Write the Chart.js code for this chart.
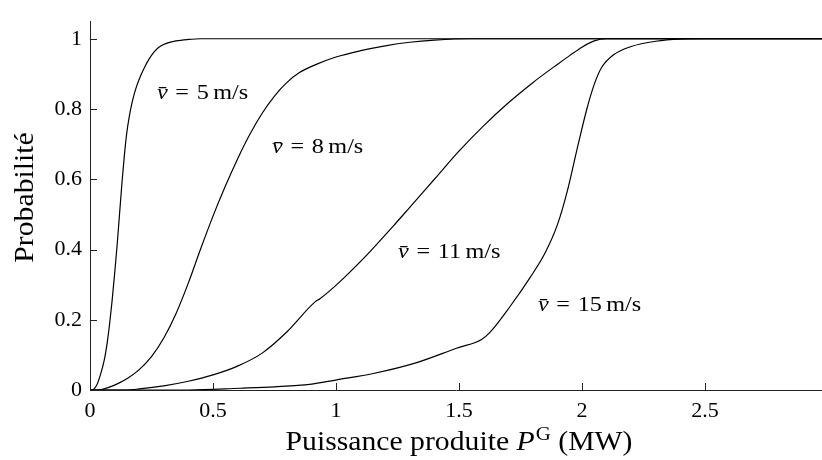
<!DOCTYPE html>
<html>
<head>
<meta charset="utf-8">
<script src="https://cdn.jsdelivr.net/npm/chart.js@4"></script>
<style>
  html, body { margin: 0; padding: 0; background: #fff; }
  #cadre { width: 822px; height: 460px; }
</style>
</head>
<body>
<div id="cadre"><canvas id="grafico"></canvas></div>
<script>
// Vitesses moyennes du vent (m/s)
var vitesses = ['5', '8', '11', '15'];

// Puissance (MW) et probabilité, une paire par courbe
var puissance5 = [0, 0.01, 0.02, 0.03, 0.04, 0.05, 0.06, 0.07, 0.08, 0.09, 0.1, 0.11, 0.12, 0.13, 0.14, 0.15, 0.16, 0.17, 0.18, 0.19, 0.2, 0.22, 0.24, 0.26, 0.28, 0.31, 0.35, 0.4, 0.45, 2.976];
var proba5     = [0, 0, 0.006, 0.018, 0.038, 0.062, 0.092, 0.135, 0.19, 0.255, 0.33, 0.41, 0.5, 0.59, 0.67, 0.735, 0.78, 0.815, 0.843, 0.866, 0.885, 0.916, 0.942, 0.962, 0.976, 0.987, 0.994, 0.998, 1, 1];

var puissance8 = [0, 0.03, 0.05, 0.1, 0.15, 0.2, 0.25, 0.3, 0.35, 0.4, 0.45, 0.5, 0.55, 0.6, 0.65, 0.7, 0.75, 0.8, 0.85, 0.92, 1.0, 1.1, 1.2, 1.3, 1.4, 1.55, 2.976];
var proba8     = [0, 0, 0.002, 0.014, 0.032, 0.058, 0.095, 0.148, 0.218, 0.305, 0.402, 0.495, 0.58, 0.658, 0.728, 0.788, 0.837, 0.875, 0.903, 0.927, 0.948, 0.966, 0.98, 0.99, 0.996, 1, 1];

var puissance11 = [0, 0.15, 0.2, 0.3, 0.4, 0.5, 0.6, 0.7, 0.8, 0.915, 0.935, 1.003, 1.125, 1.232, 1.3, 1.4, 1.5, 1.6, 1.7, 1.8, 1.9, 1.95, 2.0, 2.05, 2.1, 2.976];
var proba11     = [0, 0, 0.003, 0.012, 0.025, 0.043, 0.068, 0.105, 0.165, 0.251, 0.26, 0.30, 0.384, 0.466, 0.52, 0.6, 0.68, 0.752, 0.817, 0.875, 0.927, 0.952, 0.976, 0.994, 1, 1];

var puissance15 = [0, 0.4, 0.61, 0.75, 0.894, 1.003, 1.152, 1.328, 1.49, 1.592, 1.626, 1.707, 1.789, 1.85, 1.9, 1.94, 1.98, 2.02, 2.05, 2.08, 2.13, 2.2, 2.3, 2.4, 2.5, 2.976];
var proba15     = [0, 0, 0.005, 0.009, 0.016, 0.029, 0.047, 0.078, 0.119, 0.144, 0.164, 0.237, 0.32, 0.39, 0.47, 0.565, 0.685, 0.8, 0.87, 0.918, 0.955, 0.978, 0.993, 0.999, 1, 1];

// Graduations
var ticksX = [0, 0.5, 1, 1.5, 2, 2.5];
var ticksY = [0, 0.2, 0.4, 0.6, 0.8, 1];

var police = '"Liberation Serif", "DejaVu Serif", serif';

function points(xs, ys) {
    return xs.map(function(x, i){ return {x: x, y: ys[i]}; });
}

function courbe(xs, ys) {
    return {
        data: points(xs, ys),
        borderColor: '#000',
        borderWidth: 1.2,
        pointRadius: 0,
        fill: false,
        cubicInterpolationMode: 'monotone'
    };
}

// Etiquettes des courbes, ancrées en coordonnées des données (bord gauche, milieu)
var ancres = [[0.272, 0.844], [0.74, 0.69], [1.252, 0.392], [1.821, 0.242]];

// écrit une suite de morceaux [texte, police, décalage vertical, espace après]
function ecrire(ctx, morceaux) {
    var cx = 0;
    morceaux.forEach(function(m){
        ctx.font = m[1];
        ctx.fillText(m[0], cx, m[2] || 0);
        cx += ctx.measureText(m[0]).width + (m[3] || 0);
    });
    return cx;
}
function largeur(ctx, morceaux) {
    var w = 0;
    morceaux.forEach(function(m){ ctx.font = m[1]; w += ctx.measureText(m[0]).width + (m[3] || 0); });
    return w;
}

var habillage = {
    id: 'habillage',
    afterDraw: function(chart) {
        var ctx = chart.ctx, sx = chart.scales.x, sy = chart.scales.y, a = chart.chartArea;
        ctx.save();
        // petites graduations vers l'intérieur
        ctx.strokeStyle = '#222';
        ctx.lineWidth = 1;
        ticksX.forEach(function(v){
            var px = Math.round(sx.getPixelForValue(v)) + 0.5;
            ctx.beginPath(); ctx.moveTo(px, a.bottom); ctx.lineTo(px, a.bottom - 7); ctx.stroke();
        });
        ticksY.forEach(function(v){
            var py = Math.round(sy.getPixelForValue(v)) + 0.5;
            ctx.beginPath(); ctx.moveTo(a.left, py); ctx.lineTo(a.left + 7, py); ctx.stroke();
        });

        ctx.fillStyle = '#000';
        ctx.textBaseline = 'middle';
        ctx.textAlign = 'left';
        var fi = 'italic 22px ' + police, fr = '22px ' + police;
        ancres.forEach(function(p, i){
            var px = sx.getPixelForValue(p[0]), py = sy.getPixelForValue(p[1]);
            ctx.save();
            ctx.translate(px, py);
            ctx.scale(1.1, 1);
            ecrire(ctx, [['v\u0304', fi, 0, 7], ['=', fr, 0, 7], [vitesses[i], fr, 0, 4], ['m/s', fr, 0, 0]]);
            ctx.restore();
        });

        // titre axe x : Puissance produite P^G (MW)
        ctx.textBaseline = 'alphabetic';
        var f1 = '27px ' + police, f2 = 'italic 27px ' + police, f3 = '19px ' + police;
        var titre = [['Puissance produite ', f1, 0, 0], ['P', f2, 0, 1], ['G', f3, -10, 0], [' (MW)', f1, 0, 0]];
        var w = largeur(ctx, titre) * 1.1;
        ctx.save();
        ctx.translate(459 - w / 2, 450);
        ctx.scale(1.1, 1);
        ecrire(ctx, titre);
        ctx.restore();

        // titre axe y
        ctx.translate(33, 197.5);
        ctx.rotate(-Math.PI / 2);
        ctx.scale(1.1, 1);
        ctx.textAlign = 'center';
        ctx.font = '27px ' + police;
        ctx.fillText('Probabilité', 0, 0);
        ctx.restore();
    }
};

function etiquette(v) { return String(Math.round(v * 10) / 10); }

window.onload = function(){
    var contexto = document.getElementById('grafico').getContext('2d');
    var grafico = new Chart(contexto, {
        type: 'line',
        data: {
            datasets: [
                courbe(puissance5, proba5),
                courbe(puissance8, proba8),
                courbe(puissance11, proba11),
                courbe(puissance15, proba15)
            ]
        },
        options: {
            responsive: true,
            maintainAspectRatio: false,
            animation: false,
            layout: { padding: { top: 7, right: 0, left: 0, bottom: 0 } },
            plugins: { legend: { display: false }, tooltip: { enabled: false } },
            scales: {
                x: {
                    type: 'linear',
                    min: 0,
                    max: 2.976,
                    afterBuildTicks: function(s){ s.ticks = ticksX.map(function(v){ return {value: v}; }); },
                    afterFit: function(s){ s.height = 70; },
                    grid: { drawOnChartArea: false, drawTicks: false },
                    border: { color: '#222', width: 1 },
                    ticks: { color: '#000', padding: 8, maxRotation: 0, font: { family: police, size: 22 }, callback: etiquette }
                },
                y: {
                    type: 'linear',
                    min: 0,
                    max: 1.05,
                    afterBuildTicks: function(s){ s.ticks = ticksY.map(function(v){ return {value: v}; }); },
                    afterFit: function(s){ s.width = 90; },
                    grid: { drawOnChartArea: false, drawTicks: false },
                    border: { color: '#222', width: 1 },
                    ticks: { color: '#000', padding: 8, font: { family: police, size: 22 }, callback: etiquette }
                }
            }
        },
        plugins: [habillage]
    });
};
</script>
</body>
</html>
